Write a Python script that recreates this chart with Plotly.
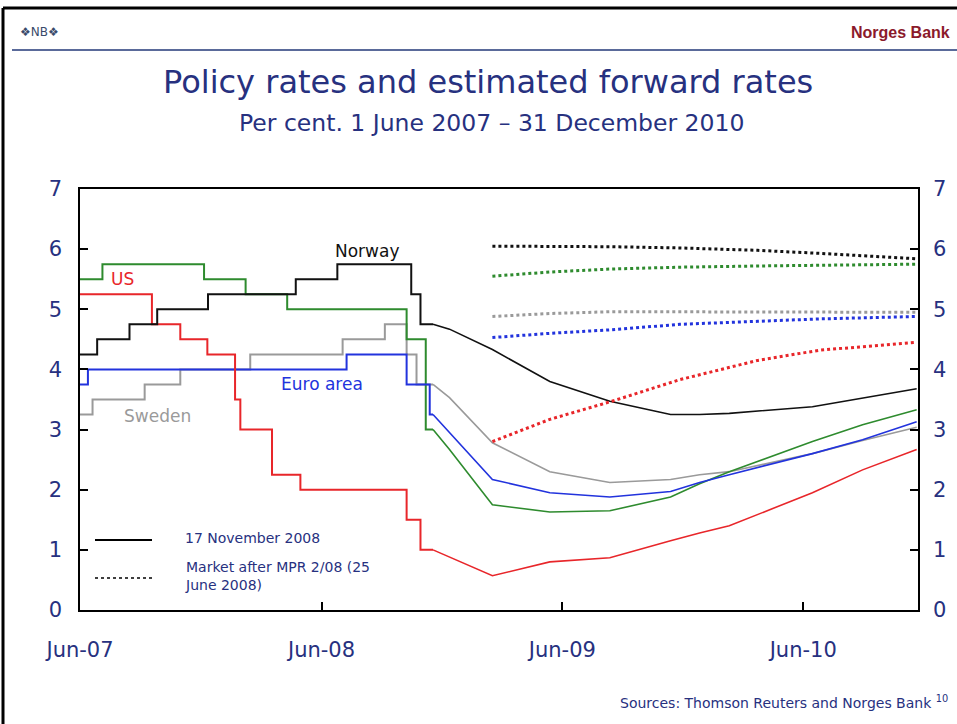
import plotly.graph_objects as go

# ---------------- data ----------------
# Policy rates (step series) until 17 Nov 2008
norway_step_dates = ["2007-06-01", "2007-06-27", "2007-08-15", "2007-09-26", "2007-12-12",
                     "2008-04-23", "2008-06-25", "2008-10-15", "2008-10-29", "2008-11-17"]
norway_step_vals = [4.25, 4.5, 4.75, 5.0, 5.25, 5.5, 5.75, 5.25, 4.75, 4.75]

us_step_dates = ["2007-06-01", "2007-09-18", "2007-10-31", "2007-12-11", "2008-01-22",
                 "2008-01-30", "2008-03-18", "2008-04-30", "2008-10-08", "2008-10-29", "2008-11-17"]
us_step_vals = [5.25, 4.75, 4.5, 4.25, 3.5, 3.0, 2.25, 2.0, 1.5, 1.0, 1.0]

euro_step_dates = ["2007-06-01", "2007-06-13", "2008-07-09", "2008-10-08", "2008-11-12", "2008-11-17"]
euro_step_vals = [3.75, 4.0, 4.25, 3.75, 3.25, 3.25]

sweden_step_dates = ["2007-06-01", "2007-06-20", "2007-09-07", "2007-10-31", "2008-02-14",
                     "2008-07-03", "2008-09-05", "2008-10-08", "2008-10-23", "2008-11-17"]
sweden_step_vals = [3.25, 3.5, 3.75, 4.0, 4.25, 4.5, 4.75, 4.25, 3.75, 3.75]

uk_step_dates = ["2007-06-01", "2007-07-05", "2007-12-06", "2008-02-07", "2008-04-10",
                 "2008-10-08", "2008-11-06", "2008-11-17"]
uk_step_vals = [5.5, 5.75, 5.5, 5.25, 5.0, 4.5, 3.0, 3.0]

# Estimated forward rates, 17 November 2008
fwd_dates = ["2008-11-17", "2008-12-12", "2009-02-15", "2009-05-13", "2009-08-12", "2009-11-12",
             "2009-12-26", "2010-02-09", "2010-06-15", "2010-08-30", "2010-11-20"]
norway_fwd = [4.75, 4.67, 4.33, 3.80, 3.47, 3.25, 3.25, 3.27, 3.38, 3.53, 3.68]
sweden_fwd = [3.75, 3.53, 2.78, 2.30, 2.12, 2.17, 2.25, 2.30, 2.60, 2.82, 3.04]
euro_fwd = [3.25, 2.95, 2.17, 1.95, 1.88, 1.97, 2.12, 2.25, 2.60, 2.83, 3.13]
uk_fwd = [3.00, 2.67, 1.75, 1.63, 1.65, 1.88, 2.10, 2.30, 2.80, 3.08, 3.33]
us_fwd = [1.00, 0.88, 0.57, 0.80, 0.87, 1.15, 1.28, 1.40, 1.95, 2.33, 2.67]

# Market after MPR 2/08 (25 June 2008)
mpr_dates = ["2009-02-15", "2009-05-13", "2009-08-15", "2009-11-26", "2010-03-24",
             "2010-06-26", "2010-11-20"]
norway_mpr = [6.05, 6.05, 6.04, 6.02, 5.98, 5.93, 5.84]
uk_mpr = [5.55, 5.62, 5.67, 5.70, 5.72, 5.73, 5.75]
sweden_mpr = [4.88, 4.93, 4.96, 4.96, 4.96, 4.95, 4.95]
euro_mpr = [4.53, 4.60, 4.66, 4.75, 4.80, 4.84, 4.88]
us_mpr = [2.80, 3.17, 3.47, 3.83, 4.15, 4.32, 4.45]

tick_dates = ["2007-06-01", "2008-06-01", "2009-06-01", "2010-06-01"]
tick_text = ["Jun-07", "Jun-08", "Jun-09", "Jun-10"]
y_ticks = [0, 1, 2, 3, 4, 5, 6, 7]

# ---------------- styling ----------------
C_NOR = "#111111"
C_US = "#e8262a"
C_EUR = "#2233dd"
C_SWE = "#9a9a9a"
C_UK = "#2e8b2e"
NAVY = "#27317f"
FONT = "DejaVu Sans, Liberation Sans, Arial"

fig = go.Figure()

def step(x, y, c):
    fig.add_trace(go.Scatter(x=x, y=y, mode="lines", line=dict(color=c, width=2, shape="hv"),
                             showlegend=False, hoverinfo="skip"))

def curve(x, y, c, dash="solid", w=1.6):
    fig.add_trace(go.Scatter(x=x, y=y, mode="lines", line=dict(color=c, width=w, dash=dash),
                             showlegend=False, hoverinfo="skip"))

step(sweden_step_dates, sweden_step_vals, C_SWE)
step(uk_step_dates, uk_step_vals, C_UK)
step(euro_step_dates, euro_step_vals, C_EUR)
step(us_step_dates, us_step_vals, C_US)
step(norway_step_dates, norway_step_vals, C_NOR)

curve(fwd_dates, sweden_fwd, C_SWE)
curve(fwd_dates, uk_fwd, C_UK)
curve(fwd_dates, euro_fwd, C_EUR)
curve(fwd_dates, us_fwd, C_US)
curve(fwd_dates, norway_fwd, C_NOR)

curve(mpr_dates, norway_mpr, C_NOR, "dot", 3)
curve(mpr_dates, uk_mpr, C_UK, "dot", 3)
curve(mpr_dates, sweden_mpr, C_SWE, "dot", 3)
curve(mpr_dates, euro_mpr, C_EUR, "dot", 3)
curve(mpr_dates, us_mpr, C_US, "dot", 3)

# dummy trace for right axis
fig.add_trace(go.Scatter(x=[tick_dates[0]], y=[0], yaxis="y2", mode="markers",
                         marker=dict(opacity=0), showlegend=False, hoverinfo="skip"))

tickfont = dict(family=FONT, size=21, color=NAVY)

fig.update_layout(
    width=957, height=724,
    margin=dict(l=80, r=39, t=189, b=114),
    paper_bgcolor="white", plot_bgcolor="white",
    showlegend=False,
    xaxis=dict(type="date", range=["2007-06-01", "2010-11-22"], tickvals=tick_dates, ticktext=tick_text,
               showgrid=False, zeroline=False, showline=True, linecolor="black", linewidth=1.5,
               mirror=True, ticks="inside", ticklen=8, tickcolor="black", tickwidth=1.5,
               tickfont=tickfont, ticklabelstandoff=20),
    yaxis=dict(range=[0, 7], tickvals=y_ticks, showgrid=False, zeroline=False, showline=True,
               linecolor="black", linewidth=1.5, mirror=True, ticks="inside", ticklen=8,
               tickcolor="black", tickwidth=1.5, tickfont=tickfont, ticklabelstandoff=12),
    yaxis2=dict(range=[0, 7], tickvals=y_ticks, overlaying="y", side="right", showgrid=False,
                zeroline=False, showline=False, ticks="inside", ticklen=8, tickcolor="black",
                tickwidth=1.5, tickfont=tickfont, ticklabelstandoff=14),
)

def px_x(px):
    return (px - 80) / 838.0

def px_y(py):
    return (610 - py) / 421.0

ann = []
# header
ann.append(dict(text="❖NB❖", x=px_x(18), y=px_y(32), xref="paper", yref="paper", xanchor="left",
                yanchor="middle", showarrow=False, font=dict(family=FONT, size=12, color="#3a4a6a")))
ann.append(dict(text="<b>Norges Bank</b>", x=px_x(952), y=px_y(32), xref="paper", yref="paper", xanchor="right",
                yanchor="middle", showarrow=False, font=dict(family="Liberation Sans, Arial", size=16, color="#8b1a2b")))
ann.append(dict(text="Policy rates and estimated forward rates", x=px_x(488), y=px_y(82), xref="paper",
                yref="paper", xanchor="center", yanchor="middle", showarrow=False,
                font=dict(family=FONT, size=32, color=NAVY)))
ann.append(dict(text="Per cent. 1 June 2007 \u2013 31 December 2010", x=px_x(491), y=px_y(123), xref="paper",
                yref="paper", xanchor="center", yanchor="middle", showarrow=False,
                font=dict(family=FONT, size=23.5, color=NAVY)))
# series labels
lab_font = dict(family=FONT, size=17)
ann.append(dict(text="Norway", x="2008-08-09", y=5.97, xanchor="center", yanchor="middle", showarrow=False,
                font=dict(lab_font, color=C_NOR)))
ann.append(dict(text="US", x="2007-08-04", y=5.5, xanchor="center", yanchor="middle", showarrow=False,
                font=dict(lab_font, color=C_US)))
ann.append(dict(text="Euro area", x="2008-06-02", y=3.75, xanchor="center", yanchor="middle", showarrow=False,
                font=dict(lab_font, color=C_EUR)))
ann.append(dict(text="Sweden", x="2007-09-27", y=3.23, xanchor="center", yanchor="middle", showarrow=False,
                font=dict(lab_font, color=C_SWE)))
# legend text
leg_font = dict(family=FONT, size=14, color=NAVY)
ann.append(dict(text="17 November 2008", x=px_x(183), y=px_y(538), xref="paper", yref="paper",
                xanchor="left", yanchor="middle", showarrow=False, font=leg_font))
ann.append(dict(text="Market after MPR 2/08 (25<br>June 2008)", x=px_x(183), y=px_y(576), xref="paper",
                yref="paper", xanchor="left", yanchor="middle", showarrow=False, align="left", font=leg_font))
# source
ann.append(dict(text="Sources: Thomson Reuters and Norges Bank <sup>10</sup>", x=px_x(950), y=px_y(702),
                xref="paper", yref="paper", xanchor="right", yanchor="middle", showarrow=False,
                font=dict(family=FONT, size=14, color=NAVY)))
fig.update_layout(annotations=ann)

shapes = [
    # legend sample lines
    dict(type="line", xref="paper", yref="paper", x0=px_x(95), x1=px_x(152), y0=px_y(540), y1=px_y(540),
         line=dict(color="black", width=2)),
    dict(type="line", xref="paper", yref="paper", x0=px_x(95), x1=px_x(152), y0=px_y(578), y1=px_y(578),
         line=dict(color="black", width=1.5, dash="dot")),
    # header rule
    dict(type="line", xref="paper", yref="paper", x0=px_x(12), x1=px_x(957), y0=px_y(50), y1=px_y(50),
         line=dict(color="#5a6a9a", width=2)),
    # slide frame
    dict(type="line", xref="paper", yref="paper", x0=px_x(3), x1=px_x(957), y0=px_y(8), y1=px_y(8),
         line=dict(color="black", width=3)),
    dict(type="line", xref="paper", yref="paper", x0=px_x(3), x1=px_x(3), y0=px_y(8), y1=px_y(724),
         line=dict(color="black", width=3)),
]
fig.update_layout(shapes=shapes)

fig.write_html("out.html", config={"displayModeBar": False})

# remove default page margin so the figure sits at the window origin
with open("out.html", "r", encoding="utf-8") as f:
    html = f.read()
html = html.replace("<head>", "<head><style>html,body{margin:0;padding:0;overflow:hidden;}</style>", 1)
with open("out.html", "w", encoding="utf-8") as f:
    f.write(html)
